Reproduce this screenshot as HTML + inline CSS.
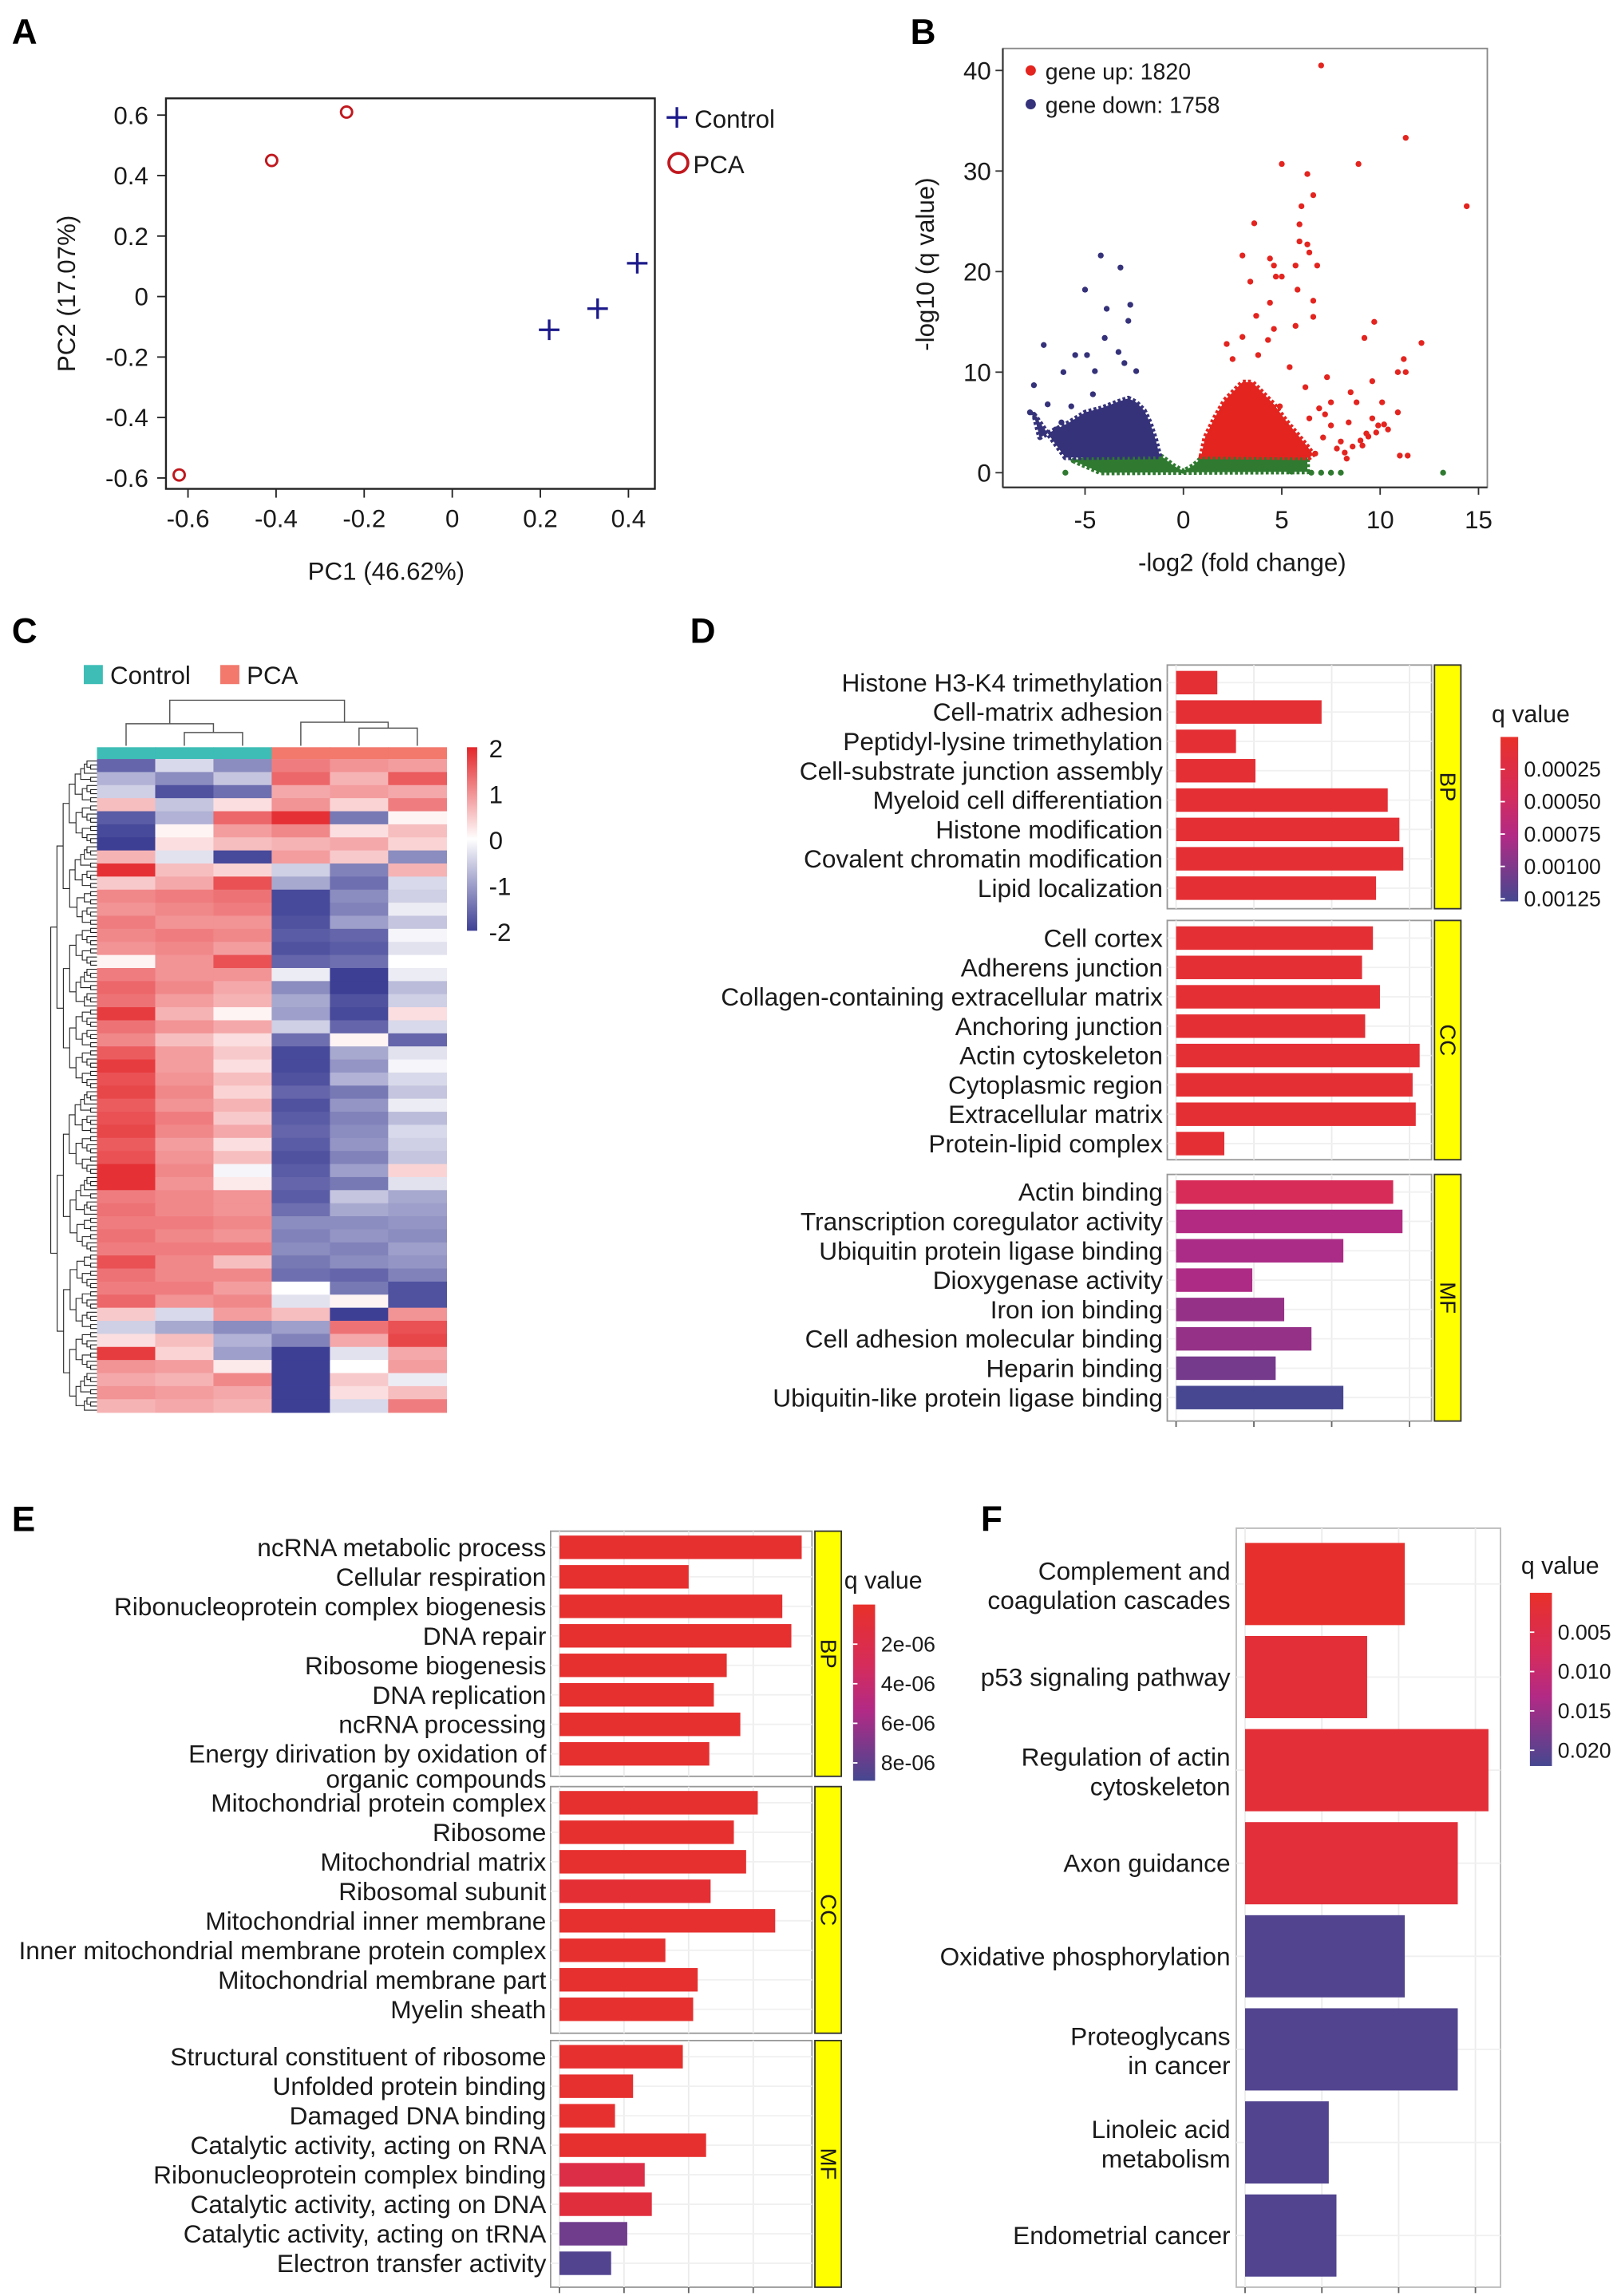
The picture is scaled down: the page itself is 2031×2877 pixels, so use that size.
<!DOCTYPE html>
<html><head><meta charset="utf-8"><style>
html,body{margin:0;padding:0;background:#fff}
svg{display:block;font-family:"Liberation Sans",Arial,sans-serif}
</style></head><body>
<svg id="fig" xmlns="http://www.w3.org/2000/svg" width="2031" height="2877" viewBox="0 0 1104 1564">
<rect x="0" y="0" width="1104" height="1564" fill="#fff"/>
</svg>
<script>
// ---------- DATA ----------
// Panel A: PCA
const pcaCtrlX=[0.22,0.33,0.42];
const pcaCtrlY=[-0.11,-0.04,0.11];
const pcaCaseX=[-0.62,-0.41,-0.24];
const pcaCaseY=[-0.59,0.45,0.61];
const pcaXTicks=[-0.6,-0.4,-0.2,0,0.2,0.4];
const pcaYTicks=[0.6,0.4,0.2,0,-0.2,-0.4,-0.6];
// Panel B: volcano
const upX=[7.0,11.3,5.0,8.9,6.3,6.6,6.0,14.4,3.6,5.9,5.9,6.3,3.0,6.4,4.4,4.6,6.8,5.7,4.7,5.0,3.4,5.8,4.4,6.6,3.7,6.6,9.7,5.7,4.6,9.2,12.1,11.2,11.3,10.9,9.6,7.3,8.5,8.8,10.1,10.9,9.6,10.4,8.0,9.3,11.0,11.4,8.3,6.7,7.5,9.1,9.9,6.2,5.4,4.3,3.8,2.2,2.5,3.0,4.9,6.4,7.5,7.1,7.8,8.2,8.6,9.0,9.4,9.8,10.2,7.2,6.9,8.4];
const upY=[40.5,33.3,30.7,30.7,29.7,27.6,26.5,26.5,24.8,24.7,23,22.7,21.6,21.9,21.3,20.6,20.6,20.6,19.5,19.5,19,18.2,16.9,17.1,15.6,15.5,15,14.6,14.3,13.4,12.9,11.3,10,10,9.1,9.5,8,7,7,6,5.4,4.3,3.1,3.9,1.7,1.7,1.4,1.9,4.7,2.7,4.7,8.5,10.5,13.2,11.7,12.8,11.3,13.5,6.6,5.4,7,3.5,2.4,2.0,2.6,3.2,3.6,4.0,4.8,5.8,6.4,5.0];
const downX=[-4.2,-3.2,-5.0,-3.9,-2.7,-2.8,-7.1,-4.0,-5.5,-4.9,-6.1,-7.6,-6.9,-7.8,-3.3,-3.0,-4.5,-2.4,-6.2,-5.7,-6.5,-5.7,-4.6];
const downY=[21.6,20.4,18.2,16.3,16.7,15.1,12.7,13.4,11.7,11.7,10,8.7,6.8,6,12,10.9,10.1,10.1,5,3.5,4.3,6.6,7.8];
const nsX=[-6,13.2,7,7.5,8,6.5,5.5];
const nsY=[0,0,0,0,0,0,0.1];
const upCloudX=[0.9,1.1,1.6,2.1,2.6,3.0,3.5,4.0,4.6,5.2,5.8,6.3,6.6,6.4];
const upCloudY=[1.6,3.5,5.5,7.2,8.2,9.0,9.0,8.0,6.8,5.2,3.8,2.6,1.8,1.5];
const downCloudX=[-1.2,-1.4,-1.7,-2.0,-2.4,-2.8,-3.4,-4.2,-5.0,-5.8,-6.6,-7.3,-7.6,-6.0];
const downCloudY=[1.6,3.2,5.0,6.2,7.0,7.4,7.0,6.4,6.0,5.0,4.2,3.5,5.8,1.5];
const nsBandX=[-5.6,-5.0,-1.1,-0.5,0,0.5,1.0,6.3,6.3,-4.2];
const nsBandY=[1.2,1.6,1.6,0.7,0.15,0.7,1.6,1.6,0.1,0];
const volXTicks=[-5,0,5,10,15];
const volYTicks=[0,10,20,30,40];
// Panel C: heatmap rows (z-scores), columns: 3 Control, 3 PCA
const heatRows=[
[-1.6,-0.4,-1.2,1.2,1.0,0.9],[-0.8,-1.2,-0.6,1.4,0.7,1.5],[-0.5,-1.8,-1.5,0.8,0.9,0.8],[0.6,-0.6,0.3,1.0,0.4,1.2],
[-1.7,-0.8,1.4,1.9,-1.4,0.1],[-1.9,0.1,0.9,1.1,0.3,0.6],[-2,0.3,0.6,0.7,0.8,0.4],[0.7,-0.3,-1.9,0.9,0.5,-1.2],
[1.9,0.6,0.4,-0.5,-1.3,0.7],[0.5,0.8,1.6,-0.9,-1.5,-0.4],[1.1,1.2,1.3,-1.9,-1.2,-0.5],[1.0,1.1,1.2,-1.9,-1.3,-0.2],
[1.2,1.0,1.0,-1.8,-1.0,-0.6],[1.1,1.2,1.1,-1.7,-1.6,-0.1],[1.0,1.1,0.9,-1.8,-1.7,-0.3],[0.1,1.0,1.6,-1.6,-1.5,0.0],
[1.2,1.0,1.0,-0.2,-2,-0.2],[1.4,1.1,0.8,-1.2,-2,-0.7],[1.3,0.9,0.7,-0.9,-1.8,-0.5],[1.8,0.7,0.1,-1.0,-1.9,0.3],
[1.3,1.0,0.8,-0.5,-1.6,-0.4],[1.1,0.6,0.3,-1.5,0.1,-1.6],[1.5,0.9,0.5,-1.9,-0.9,-0.3],[1.8,0.9,0.3,-1.9,-1.1,-0.1],
[1.6,1.0,0.6,-1.8,-0.8,-0.4],[1.7,1.1,0.4,-1.6,-1.4,-0.6],[1.5,1.0,0.7,-1.8,-1.1,-0.2],[1.6,1.2,0.5,-1.7,-1.3,-0.7],
[1.7,1.1,0.8,-1.6,-1.2,-0.4],[1.5,0.9,0.3,-1.7,-1.1,-0.5],[1.6,1.0,0.6,-1.8,-1.3,-0.6],[1.9,1.1,-0.1,-1.7,-1.0,0.4],
[1.9,1.0,0.2,-1.6,-1.4,-0.3],[1.2,1.1,1.0,-1.7,-0.6,-0.9],[1.3,1.1,1.0,-1.5,-0.9,-1.0],[1.2,1.2,1.1,-1.2,-1.2,-1.1],
[1.3,1.1,1.0,-1.3,-1.1,-1.2],[1.2,1.2,1.2,-1.2,-1.3,-1.0],[1.6,1.1,0.6,-1.4,-1.2,-1.1],[1.3,1.1,1.1,-1.5,-1.6,-1.3],
[1.2,1.2,0.9,0.0,-1.4,-1.8],[1.4,1.0,1.1,-0.3,0.1,-1.8],[0.5,-0.4,0.9,0.6,-2,1.0],[-0.5,-0.9,-1.2,-1.0,1.3,1.6],
[0.3,0.6,-0.8,-1.3,0.8,1.7],[1.8,0.4,-1.0,-2,-0.3,0.8],[1.0,0.9,0.2,-2,0.0,0.9],[0.8,0.7,1.1,-2,0.5,-0.2],
[1.0,0.9,0.8,-2,0.3,0.6],[0.7,0.8,0.7,-2,-0.4,1.2]];
const heatGroups=['Control','Control','Control','PCA','PCA','PCA'];
const heatScaleTicks=[2,1,0,-1,-2];
// Panel D: GO enrichment
const dTerms=[["Histone H3-K4 trimethylation","Cell-matrix adhesion","Peptidyl-lysine trimethylation","Cell-substrate junction assembly","Myeloid cell differentiation","Histone modification","Covalent chromatin modification","Lipid localization"],
["Cell cortex","Adherens junction","Collagen-containing extracellular matrix","Anchoring junction","Actin cytoskeleton","Cytoplasmic region","Extracellular matrix","Protein-lipid complex"],
["Actin binding","Transcription coregulator activity","Ubiquitin protein ligase binding","Dioxygenase activity","Iron ion binding","Cell adhesion molecular binding","Heparin binding","Ubiquitin-like protein ligase binding"]];
const dCounts=[[5.3,18.7,7.7,10.2,27.2,28.7,29.2,25.7],[25.3,23.9,26.2,24.3,31.3,30.4,30.8,6.2],[27.9,29.1,21.5,9.8,13.9,17.4,12.8,21.5]];
const dQ=[[0.0001,0.0001,0.0001,0.0001,0.0001,0.0001,0.0001,0.0001],[0.0001,0.0001,0.0001,0.0001,0.0001,0.0001,0.0001,0.0001],[0.0004,0.00075,0.0008,0.00078,0.0009,0.0009,0.00105,0.0013]];
const dLegTicks=[0.00025,0.0005,0.00075,0.001,0.00125];
// Panel E
const eTerms=[["ncRNA metabolic process","Cellular respiration","Ribonucleoprotein complex biogenesis","DNA repair","Ribosome biogenesis","DNA replication","ncRNA processing","Energy dirivation by oxidation of|organic compounds"],
["Mitochondrial protein complex","Ribosome","Mitochondrial matrix","Ribosomal subunit","Mitochondrial inner membrane","Inner mitochondrial membrane protein complex","Mitochondrial membrane part","Myelin sheath"],
["Structural constituent of ribosome","Unfolded protein binding","Damaged DNA binding","Catalytic activity, acting on RNA","Ribonucleoprotein complex binding","Catalytic activity, acting on DNA","Catalytic activity, acting on tRNA","Electron transfer activity"]];
const eCounts=[[37.5,20,34.5,35.9,25.9,23.9,28,23.2],[30.7,27,28.9,23.4,33.4,16.4,21.4,20.7],[19.1,11.4,8.6,22.7,13.2,14.3,10.5,8.0]];
const eQ=[[3e-7,3e-7,3e-7,3e-7,3e-7,3e-7,3e-7,3e-7],[3e-7,3e-7,3e-7,7e-7,3e-7,3e-7,3e-7,3e-7],[3e-7,3e-7,3e-7,3e-7,1.8e-6,1.2e-6,7.5e-6,8.5e-6]];
const eLegTicks=[2e-6,4e-6,6e-6,8e-6];
const eLegLabels=["2e-06","4e-06","6e-06","8e-06"];
// Panel F: KEGG
const fTerms=["Complement and|coagulation cascades","p53 signaling pathway","Regulation of actin|cytoskeleton","Axon guidance","Oxidative phosphorylation","Proteoglycans|in cancer","Linoleic acid|metabolism","Endometrial cancer"];
const fCounts=[20.8,15.9,31.7,27.7,20.8,27.7,10.9,11.9];
const fQ=[0.0005,0.002,0.002,0.0025,0.021,0.021,0.021,0.021];
const fLegTicks=[0.005,0.010,0.015,0.020];
const fLegLabels=["0.005","0.010","0.015","0.020"];

// ---------- HELPERS ----------
const NS='http://www.w3.org/2000/svg';
const svg=document.getElementById('fig');
function mk(tag,attrs,parent){const e=document.createElementNS(NS,tag);for(const k in attrs)e.setAttribute(k,attrs[k]);(parent||svg).appendChild(e);return e;}
function txt(x,y,s,size,anchor,parent,extra){const e=mk('text',Object.assign({x:x,y:y,'font-size':size,'text-anchor':anchor||'start',fill:'#1a1a1a'},extra||{}),parent);e.textContent=s;return e;}
function hex(c){return [parseInt(c.slice(1,3),16),parseInt(c.slice(3,5),16),parseInt(c.slice(5,7),16)];}
function lerpStops(stops,t){t=Math.max(0,Math.min(1,t));for(let i=0;i<stops.length-1;i++){const a=stops[i],b=stops[i+1];if(t<=b[0]){const u=(t-a[0])/(b[0]-a[0]);const A=hex(a[1]),B=hex(b[1]);return 'rgb('+A.map((v,j)=>Math.round(v+(B[j]-v)*u)).join(',')+')';}}return stops[stops.length-1][1];}
const qStops=[[0,'#e8302a'],[0.35,'#d52c5c'],[0.6,'#b22a85'],[1,'#464790']];
const heatStops=[[0,'#3d3f95'],[0.5,'#ffffff'],[1,'#e4262a']];

function grad(id,stops){const defs=mk('defs',{});const g=mk('linearGradient',{id:id,x1:0,y1:0,x2:0,y2:1},defs);stops.forEach(s=>mk('stop',{offset:s[0],'stop-color':s[1]},g));}
grad('qgrad',qStops);
grad('hgrad',[[0,'#e4262a'],[0.5,'#ffffff'],[1,'#3d3f95']]);

function panelLabel(x,y,s){const t=txt(x,y,s,24,'start',null,{'font-weight':'bold',fill:'#000'});

}

// ---------- PANEL A ----------
panelLabel(8,30,'A');
const gA=mk('g',{});


const ax=v=>308+v*300, ay=v=>202-v*206;
mk('rect',{x:113,y:67,width:333,height:266,fill:'none',stroke:'#222','stroke-width':1.3},gA);
pcaXTicks.forEach(v=>{mk('line',{x1:ax(v),x2:ax(v),y1:333,y2:339,stroke:'#222'},gA);const t=txt(ax(v),359,String(v),17,'middle',gA);

});
pcaYTicks.forEach(v=>{mk('line',{x1:107,x2:113,y1:ay(v),y2:ay(v),stroke:'#222'},gA);const t=txt(101,ay(v)+6,String(v),17,'end',gA);

});
const ptA=txt(263,395,'PC1 (46.62%)',17,'middle',gA);


const pyA=txt(0,0,'PC2 (17.07%)',17,'middle',gA,{transform:'translate(51,200) rotate(-90)'});


pcaCtrlX.forEach((v,i)=>{const x=ax(v),y=ay(pcaCtrlY[i]);const p=mk('path',{d:`M${x-7} ${y}H${x+7}M${x} ${y-7}V${y+7}`,stroke:'#1c1a8a','stroke-width':1.8},gA);

});
pcaCaseX.forEach((v,i)=>{const c=mk('circle',{cx:ax(v),cy:ay(pcaCaseY[i]),r:3.8,fill:'none',stroke:'#c0181e','stroke-width':1.6},gA);

});
mk('path',{d:'M454 80H468M461 73V87',stroke:'#1c1a8a','stroke-width':1.8},gA);
const lc=txt(473,87,'Control',17,'start',gA);


mk('circle',{cx:462,cy:111,r:6.5,fill:'none',stroke:'#c0181e','stroke-width':2},gA);
const lp=txt(472,118,'PCA',17,'start',gA);



// ---------- PANEL B ----------
panelLabel(620,30,'B');
const gB=mk('g',{});


const bx=v=>806+v*13.4, by=v=>322-v*6.85;
mk('rect',{x:683,y:33,width:330,height:299,fill:'none',stroke:'#888','stroke-width':1},gB);
mk('line',{x1:683,x2:683,y1:33,y2:332,stroke:'#333','stroke-width':1.2},gB);
mk('line',{x1:683,x2:1013,y1:332,y2:332,stroke:'#333','stroke-width':1.2},gB);
volXTicks.forEach(v=>{mk('line',{x1:bx(v),x2:bx(v),y1:332,y2:337,stroke:'#333'},gB);const t=txt(bx(v),360,String(v),17,'middle',gB);

});
volYTicks.forEach(v=>{mk('line',{x1:678,x2:683,y1:by(v),y2:by(v),stroke:'#333'},gB);const t=txt(675,by(v)+6,String(v),17,'end',gB);

});
const poly=(xs,ys,fill,name)=>{const p=mk('polygon',{points:xs.map((x,i)=>bx(x)+','+by(ys[i])).join(' '),fill:fill,stroke:fill,'stroke-width':3.5,'stroke-linejoin':'round','stroke-dasharray':'2 1.5'},gB);

};
poly(nsBandX,nsBandY,'#2f7a30','ns-gene-band');
poly(upCloudX,upCloudY,'#e3241f','up-gene-cloud');
poly(downCloudX,downCloudY,'#35327a','down-gene-cloud');
const dots=(xs,ys,fill,name)=>xs.forEach((x,i)=>{const c=mk('circle',{cx:bx(x),cy:by(ys[i]),r:2,fill:fill},gB);

});
dots(nsX,nsY,'#2f7a30','ns-gene-point');
dots(upX,upY,'#e3241f','up-gene-point');
dots(downX,downY,'#35327a','down-gene-point');
mk('circle',{cx:702,cy:48,r:3.5,fill:'#e3241f'},gB);
const lu=txt(712,54,'gene up: 1820',15.5,'start',gB);


mk('circle',{cx:702,cy:71,r:3.5,fill:'#35327a'},gB);
const ld=txt(712,77,'gene down: 1758',15.5,'start',gB);


const bxT=txt(846,389,'-log2 (fold change)',17,'middle',gB);


const byT=txt(0,0,'-log10 (q value)',17,'middle',gB,{transform:'translate(636,180) rotate(-90)'});



// ---------- PANEL C ----------
panelLabel(8,438,'C');
const gC=mk('g',{});


const hx0=66,hx1=304,hy0=517,hy1=962;
const cw=(hx1-hx0)/6, rh=(hy1-hy0)/heatRows.length;
const hcol=v=>lerpStops(heatStops,(v+2)/4);
heatRows.forEach((row,r)=>row.forEach((v,c)=>{const rc=mk('rect',{x:hx0+c*cw,y:hy0+r*rh,width:cw+0.4,height:rh+0.4,fill:hcol(v)},gC);

}));
heatGroups.forEach((g,c)=>{const rc=mk('rect',{x:hx0+c*cw,y:509,width:cw+0.4,height:8,fill:g==='Control'?'#3dbdb6':'#f2796c'},gC);

});
const cx=c=>hx0+(c+0.5)*cw;
mk('path',{d:`M${cx(1)} 508V499H${cx(2)}V508 M${cx(0)} 508V493H${(cx(1)+cx(2))/2}V499 M${cx(4)} 508V496H${cx(5)}V508 M${cx(3)} 508V492H${(cx(4)+cx(5))/2}V496 M${(cx(0)+(cx(1)+cx(2))/2)/2} 493V477H${(cx(3)+(cx(4)+cx(5))/2)/2}V492`,fill:'none',stroke:'#555','stroke-width':0.8},gC);
const leaves=160;
function tree(lo,hi){const n=hi-lo;if(n===1){return {y:hy0+(lo+0.5)*(hy1-hy0)/leaves,x:66};}
const mid=lo+Math.floor(n/2)+((lo*7)%3===0&&n>3?1:0);const a=tree(lo,mid),b=tree(mid,hi);const x=66-4.3*Math.log2(n);
mk('path',{d:`M${a.x} ${a.y}H${x}V${b.y}H${b.x}`,fill:'none',stroke:'#222','stroke-width':0.6},gC);return {x:x,y:(a.y+b.y)/2};}
tree(0,leaves);
mk('rect',{x:318,y:509,width:7,height:125,fill:'url(#hgrad)'},gC);
heatScaleTicks.forEach(v=>{const y=509+(2-v)/4*125;const t=txt(333,y+7,String(v),17,'start',gC);

});
mk('rect',{x:57,y:453,width:13,height:13,fill:'#3dbdb6'},gC);
const lcC=txt(75,466,'Control',17,'start',gC);


mk('rect',{x:150,y:453,width:13,height:13,fill:'#f2796c'},gC);
const lpC=txt(168,466,'PCA',17,'start',gC);



// ---------- BAR PANELS ----------
function facetBars(opt){
  const g=mk('g',{});
  
  
  opt.facets.forEach((f,fi)=>{
    mk('rect',{x:opt.x0,y:f[0],width:opt.x1-opt.x0,height:f[1]-f[0],fill:'#fff',stroke:'#999','stroke-width':1},g);
    opt.grid.forEach(v=>mk('line',{x1:opt.sx(v),x2:opt.sx(v),y1:f[0],y2:f[1],stroke:'#ececec','stroke-width':1},g));
    opt.terms[fi].forEach((t,i)=>{
      const yc=f[0]+opt.firstOff+i*opt.step;
      mk('line',{x1:opt.x0,x2:opt.x1,y1:yc,y2:yc,stroke:'#f0f0f0'},g);
      const b=mk('rect',{x:opt.sx(0),y:yc-opt.bh/2,width:opt.sx(opt.counts[fi][i])-opt.sx(0),height:opt.bh,fill:lerpStops(qStops,opt.q[fi][i]/opt.qmax)},g);
      
      
      const parts=t.split('|');
      parts.forEach((p,k)=>{const l=txt(opt.x0-3,yc+6+k*17,p,opt.fs,'end',g);
      
      });
    });
    const s=mk('rect',{x:opt.sx0,y:f[0],width:18,height:f[1]-f[0],fill:'#ffff00',stroke:'#333','stroke-width':1},g);
    
    
    const st=txt(0,0,opt.strips[fi],15,'middle',g,{transform:`translate(${opt.sx0+4},${(f[0]+f[1])/2}) rotate(90)`});
    
    
  });
  const last=opt.facets[opt.facets.length-1][1];
  opt.grid.forEach(v=>mk('line',{x1:opt.sx(v),x2:opt.sx(v),y1:last,y2:last+4,stroke:'#666'},g));
  const lt=txt(opt.lx-6,opt.ly,'q value',16.5,'start',g);
  
  
  mk('rect',{x:opt.lx,y:opt.lb0,width:opt.lw,height:opt.lb1-opt.lb0,fill:'url(#qgrad)'},g);
  opt.ticks.forEach((v,i)=>{const y=opt.lb0+(v/opt.qmax)*(opt.lb1-opt.lb0);
    mk('line',{x1:opt.lx,x2:opt.lx+3,y1:y,y2:y,stroke:'#fff'},g);
    const t=txt(opt.lx+opt.lw+4,y+5,opt.labels[i],14.5,'start',g);
    
    });
  return g;
}
panelLabel(470,438,'D');
facetBars({name:'go-enrichment-d',x0:795,x1:975,sx:v=>801+v*5.3,grid:[0,10,20,30],facets:[[453,619],[627,790],[800,968]],
  firstOff:12,step:20,bh:16,terms:dTerms,counts:dCounts,q:dQ,qmax:0.00127,fs:17.2,sx0:977,strips:['BP','CC','MF'],
  lx:1022,lw:12,ly:492,lb0:502,lb1:614,ticks:dLegTicks,labels:['0.00025','0.00050','0.00075','0.00100','0.00125']});

panelLabel(8,1043,'E');
facetBars({name:'go-enrichment-e',x0:375,x1:553,sx:v=>381+v*4.4,grid:[0,10,20,30],facets:[[1043,1210],[1217,1385],[1390,1558]],
  firstOff:11,step:20.1,bh:16,terms:eTerms,counts:eCounts,q:eQ,qmax:8.9e-6,fs:17.2,sx0:555,strips:['BP','CC','MF'],
  lx:581,lw:15,ly:1082,lb0:1093,lb1:1213,ticks:eLegTicks,labels:eLegLabels});

// Panel F
panelLabel(668,1043,'F');
const gF=mk('g',{});


const fsx=v=>848+v*5.23;
mk('rect',{x:842,y:1041,width:180,height:517,fill:'#fff',stroke:'#bbb','stroke-width':1},gF);
[0,10,20,30].forEach(v=>{mk('line',{x1:fsx(v),x2:fsx(v),y1:1041,y2:1558,stroke:'#ececec'},gF);mk('line',{x1:fsx(v),x2:fsx(v),y1:1558,y2:1562,stroke:'#666'},gF);});
fTerms.forEach((t,i)=>{const yc=1079+i*63.4;
  mk('line',{x1:842,x2:1022,y1:yc,y2:yc,stroke:'#f0f0f0'},gF);
  const b=mk('rect',{x:fsx(0),y:yc-28,width:fsx(fCounts[i])-fsx(0),height:56,fill:lerpStops(qStops,fQ[i]/0.022)},gF);
  
  
  const parts=t.split('|');
  parts.forEach((p,k)=>{const l=txt(838,yc+6+(parts.length===2?(k===0?-9:11):0),p,17.2,'end',gF);
  
  });
});
const flt=txt(1036,1072,'q value',16.5,'start',gF);


mk('rect',{x:1042,y:1085,width:15,height:118,fill:'url(#qgrad)'},gF);
fLegTicks.forEach((v,i)=>{const y=1085+(v/0.022)*118;
  mk('line',{x1:1042,x2:1045,y1:y,y2:y,stroke:'#fff'},gF);
  const t=txt(1061,y+5,fLegLabels[i],14.5,'start',gF);
  
  });
</script>
</body></html>
